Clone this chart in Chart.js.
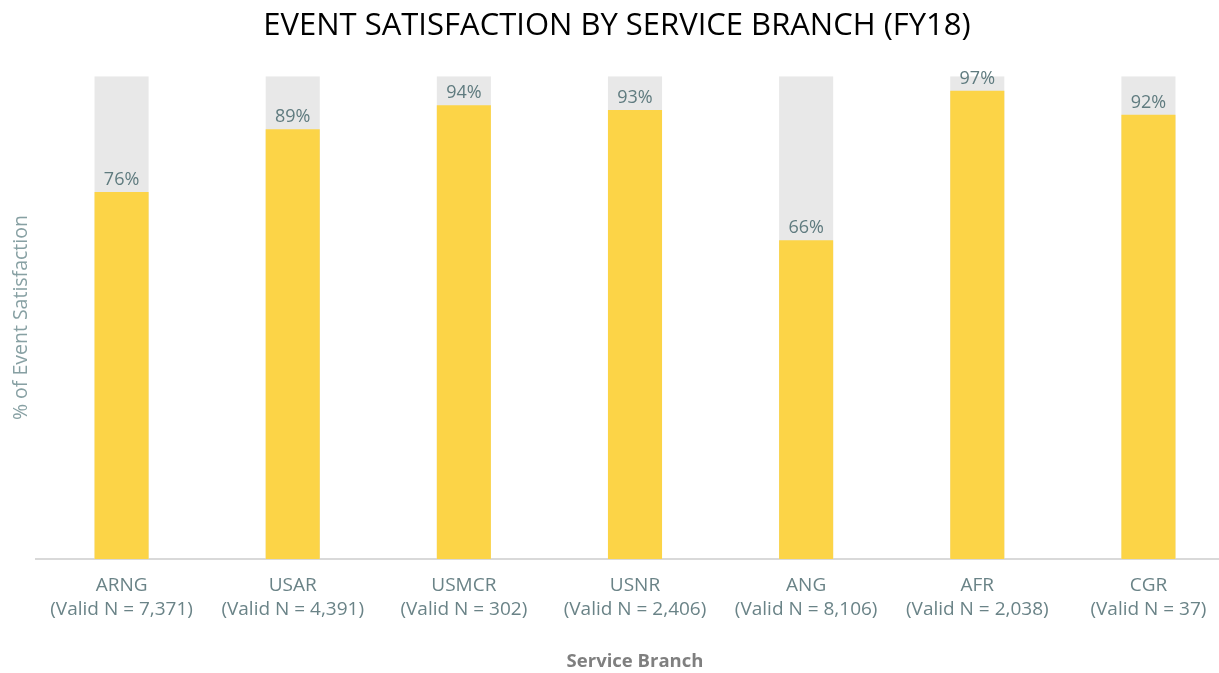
<!DOCTYPE html>
<html>
<head>
<meta charset="utf-8">
<script src="https://cdn.jsdelivr.net/npm/chart.js@4"></script>
<style>
  html, body { margin: 0; padding: 0; background: #fff; overflow: hidden; }
  #wrap { width: 1234px; height: 673px; }
</style>
</head>
<body>
<div id="wrap"><canvas id="satChart"></canvas></div>
<script>
const branches = ["ARNG", "USAR", "USMCR", "USNR", "ANG", "AFR", "CGR"];
const validN = ["7,371", "4,391", "302", "2,406", "8,106", "2,038", "37"];
const satisfaction = [76, 89, 94, 93, 66, 97, 92];
const fullScale = [100, 100, 100, 100, 100, 100, 100];

const labelColor = "#6a8387";

// draw the % value just above each yellow bar
const valueLabels = {
  id: "valueLabels",
  afterDatasetsDraw(chart) {
    const ctx = chart.ctx;
    const meta = chart.getDatasetMeta(0);
    ctx.save();
    ctx.font = "18px 'Open Sans'";
    ctx.fillStyle = "#5f7b7f";
    ctx.textAlign = "center";
    ctx.textBaseline = "bottom";
    meta.data.forEach((bar, i) => {
      ctx.fillText(satisfaction[i] + "%", bar.x, bar.y - 3);
    });
    ctx.restore();
  }
};

const ctx = document.getElementById("satChart").getContext("2d");
new Chart(ctx, {
  type: "bar",
  data: {
    labels: branches.map((b, i) => [b, "(Valid N = " + validN[i] + ")"]),
    datasets: [
      {
        label: "Satisfied",
        data: satisfaction,
        backgroundColor: "#fcd447",
        barPercentage: 0.316,
        categoryPercentage: 1,
      },
      {
        label: "Total",
        data: fullScale,
        backgroundColor: "#e8e8e8",
        barPercentage: 0.316,
        categoryPercentage: 1,
      },
    ],
  },
  options: {
    responsive: true,
    maintainAspectRatio: false,
    animation: false,
    layout: { padding: 0 },
    plugins: {
      legend: { display: false },
      tooltip: { enabled: false },
      title: {
        display: true,
        text: "EVENT SATISFACTION BY SERVICE BRANCH (FY18)",
        color: "#000",
        font: { family: "'Open Sans'", size: 31, weight: "normal" },
        padding: { top: 8, bottom: 31 },
      },
    },
    scales: {
      x: {
        stacked: true,
        grid: { display: false },
        border: { color: "#d9d9d9", width: 2 },
        ticks: {
          color: labelColor,
          font: { family: "'Open Sans'", size: 19, lineHeight: 1.3 },
          padding: 6,
          maxRotation: 0,
          autoSkip: false,
        },
        title: {
          display: true,
          text: "Service Branch",
          color: "#7f7f7f",
          font: { family: "'Open Sans'", size: 18.5, weight: "bold" },
          padding: { top: 26, bottom: 0 },
        },
        afterFit(scale) { scale.height = 114; },
      },
      y: {
        stacked: false,
        min: 0,
        max: 100,
        grid: { display: false },
        border: { display: false },
        ticks: { display: false },
        title: {
          display: true,
          text: "% of Event Satisfaction",
          color: "#87a0a3",
          font: { family: "'Open Sans'", size: 19.5 },
          padding: { top: 10, bottom: 0 },
        },
        afterFit(scale) { scale.width = 36; },
      },
    },
  },
  plugins: [valueLabels],
});
</script>
</body>
</html>
